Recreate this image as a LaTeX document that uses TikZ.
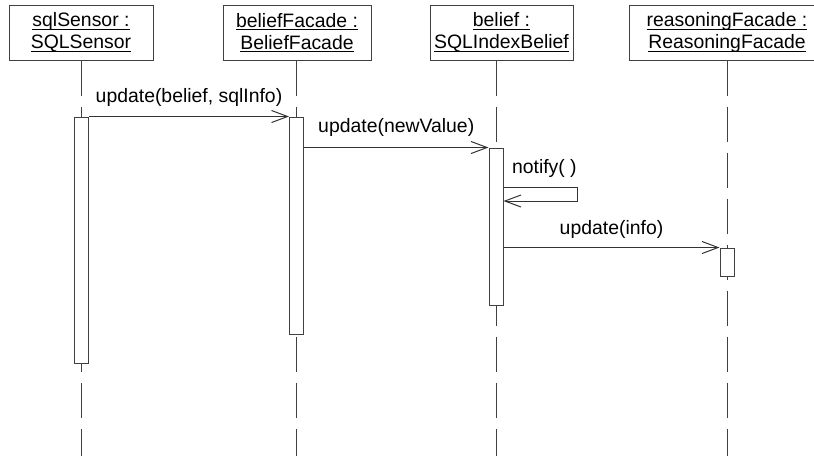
\documentclass[tikz,border=0pt]{standalone}
\usepackage{fontspec}
\setmainfont{Liberation Sans}
\usetikzlibrary{arrows.meta}

% underlined object name, rule a little below the baseline
\newcommand{\ulname}[1]{\setbox0\hbox{#1}\rlap{\rule[-3pt]{\wd0}{1pt}}\box0}

\begin{document}
\begin{tikzpicture}[x=1pt, y=-1pt,
    every node/.style={font=\fontsize{19.4}{22}\selectfont},
    objbox/.style={draw=black!75, line width=1pt, align=center, minimum height=55pt, inner sep=0pt},
    lifeline/.style={draw=black!75, line width=1pt, dash pattern=on 35pt off 11pt},
    actbar/.style={draw=black!75, fill=white, line width=1pt, minimum width=14pt, inner sep=0pt},
    msg/.style={draw=black!80, line width=1pt, -{Straight Barb[length=16pt, width=12pt]}}]
    \useasboundingbox (0,0) rectangle (814,456);

    % objects
    \node[objbox, minimum width=144pt] (sensor) at (81,32.5) {\ulname{sqlSensor :}\\\ulname{SQLSensor}};
    \node[objbox, minimum width=148pt] (facade) at (297,32.5) {\ulname{beliefFacade :}\\\ulname{BeliefFacade}};
    \node[objbox, minimum width=143pt] (belief) at (501.5,32.5) {\ulname{belief :}\\\ulname{SQLIndexBelief}};
    \node[objbox, minimum width=196pt] (reasoning) at (727,32.5) {\ulname{reasoningFacade :}\\\ulname{ReasoningFacade}};

    % lifelines
    \coordinate (sensorEnd) at (81.5,456);
    \coordinate (facadeEnd) at (296.5,456);
    \coordinate (beliefEnd) at (496,456);
    \coordinate (reasoningEnd) at (727,456);
    \draw[lifeline] (sensor.south -| sensorEnd) -- (sensorEnd);
    \draw[lifeline] (facade.south -| facadeEnd) -- (facadeEnd);
    \draw[lifeline] (belief.south -| beliefEnd) -- (beliefEnd);
    \draw[lifeline] (reasoning.south -| reasoningEnd) -- (reasoningEnd);

    % activations
    \node[actbar, minimum height=246pt] (actSensor) at (81.5,240) {};
    \node[actbar, minimum height=217pt] (actFacade) at (296.5,225.5) {};
    \node[actbar, minimum height=157pt] (actBelief) at (496,226.5) {};
    \node[actbar, minimum height=28pt] (actReason) at (727,262) {};

    % messages
    \draw[msg] (actSensor.north east) -- node[midway, anchor=base, yshift=14pt]{update(belief, sqlInfo)} (actFacade.north west);
    \draw[msg] (actFacade.east |- actBelief.north) -- node[midway, anchor=base, yshift=15pt]{update(newValue)} (actBelief.north west);

    \coordinate (notifyOut) at (actBelief.east |- 0,187);
    \coordinate (notifyIn) at (actBelief.east |- 0,201);
    \draw[msg] (notifyOut) -- ++(74,0) -- ++(0,14) -- (notifyIn);
    \node[anchor=base west] (notifyLbl) at ([xshift=5pt, yshift=14pt]notifyOut) {notify( )};

    \draw[msg] (actBelief.east |- actReason.north) -- node[midway, anchor=base, yshift=13pt]{update(info)} (actReason.north west);
\end{tikzpicture}
\end{document}
